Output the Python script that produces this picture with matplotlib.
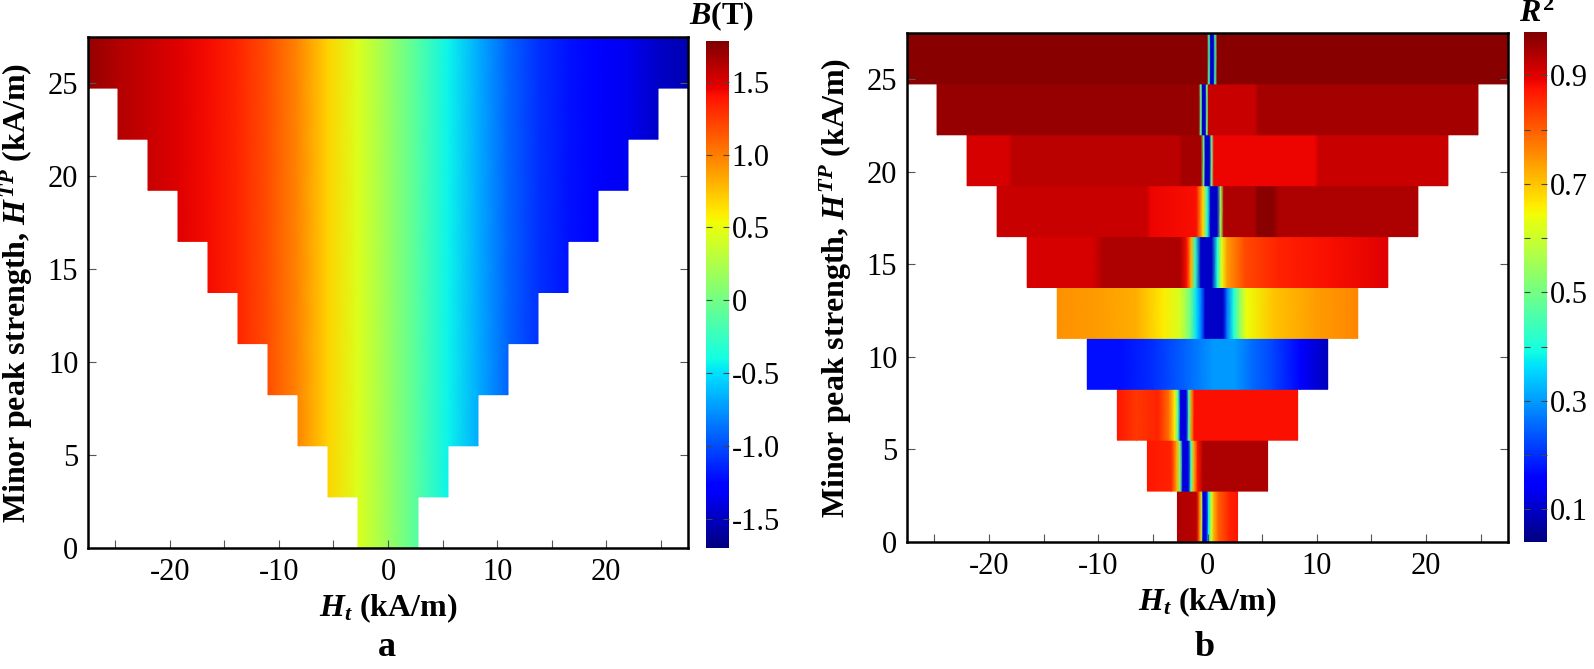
import numpy as np
import matplotlib
matplotlib.use("Agg")
import matplotlib.pyplot as plt
from matplotlib.colors import Normalize
from matplotlib.ticker import AutoMinorLocator, FixedLocator
import matplotlib.cm as cm

# ---------------- data ----------------
# row tops (minor peak strength H^TP, kA/m); each row spans Ht in [-top, top]
HTP_ROW_TOP = [2.75, 5.5, 8.25, 11.0, 13.75, 16.5, 19.25, 22.0, 24.75, 27.5]

# panel a: B (T) sampled along Ht
HT_GRID = [-27.5, -24.75, -22.0, -19.25, -16.5, -13.75, -11.0, -8.25, -5.5, -2.75,
           0.0, 2.75, 5.5, 8.25, 11.0, 13.75, 16.5, 19.25, 22.0, 24.75, 27.5]
B_VALUES = [1.70, 1.63, 1.56, 1.49, 1.42, 1.32, 1.18, 0.97, 0.69, 0.44,
            0.17, -0.13, -0.43, -0.68, -0.92, -1.10, -1.21, -1.29, -1.36, -1.47, -1.55]

# panel b: R^2 per row (Ht sample points, values)
R2_HT_0 = [-2.75, -1.0, -0.75, -0.55, -0.4, -0.1, 0.1, 0.35, 0.6, 1.0, 2.0, 2.75]
R2_V_0 = [0.94, 0.93, 0.80, 0.62, 0.12, 0.12, 0.38, 0.60, 0.72, 0.80, 0.86, 0.87]
R2_HT_1 = [-5.5, -3.3, -2.8, -2.5, -2.25, -1.75, -1.5, -1.25, -0.9, -0.4, 5.5]
R2_V_1 = [0.87, 0.86, 0.72, 0.50, 0.12, 0.12, 0.45, 0.72, 0.87, 0.94, 0.94]
R2_HT_2 = [-8.25, -6.5, -4.5, -3.5, -3.0, -2.7, -2.45, -1.95, -1.7, -1.45, -1.2, 8.25]
R2_V_2 = [0.87, 0.84, 0.86, 0.78, 0.66, 0.45, 0.12, 0.12, 0.45, 0.75, 0.88, 0.88]
R2_HT_3 = [-11.0, -8.0, -5.0, -2.0, 0.5, 2.5, 4.0, 6.0, 8.5, 11.0]
R2_V_3 = [0.17, 0.17, 0.20, 0.25, 0.30, 0.30, 0.26, 0.22, 0.16, 0.09]
R2_HT_4 = [-13.75, -10.0, -6.5, -4.0, -2.5, -1.6, -1.0, -0.5, -0.2, 1.45, 1.8, 2.4, 3.0, 3.6, 6.0, 10.0, 13.75]
R2_V_4 = [0.75, 0.74, 0.72, 0.66, 0.61, 0.50, 0.36, 0.25, 0.10, 0.10, 0.27, 0.40, 0.55, 0.64, 0.70, 0.74, 0.76]
R2_HT_5 = [-16.5, -10.5, -9.5, -2.5, -1.9, -1.5, -1.1, -0.6, 0.4, 0.9, 1.3, 1.8, 3.4, 6.5, 11.0, 16.5]
R2_V_5 = [0.91, 0.91, 0.94, 0.94, 0.88, 0.72, 0.42, 0.10, 0.10, 0.40, 0.63, 0.74, 0.82, 0.86, 0.88, 0.90]
R2_HT_6 = [-19.25, -5.6, -5.2, -1.0, -0.4, 0.0, 0.3, 0.9, 1.2, 1.5, 4.3, 4.6, 6.0, 6.5, 19.25]
R2_V_6 = [0.92, 0.92, 0.89, 0.88, 0.68, 0.40, 0.10, 0.10, 0.55, 0.94, 0.94, 0.97, 0.97, 0.94, 0.94]
R2_HT_7 = [-22.0, -18.2, -17.8, -2.6, -2.3, -0.6, -0.35, -0.2, 0.2, 0.35, 0.6, 9.8, 10.2, 22.0]
R2_V_7 = [0.91, 0.91, 0.93, 0.93, 0.95, 0.95, 0.50, 0.10, 0.10, 0.50, 0.89, 0.89, 0.92, 0.92]
R2_HT_8 = [-24.75, -0.8, -0.6, -0.45, -0.2, -0.05, 0.1, 4.3, 4.7, 24.75]
R2_V_8 = [0.96, 0.96, 0.50, 0.10, 0.10, 0.50, 0.92, 0.92, 0.95, 0.95]
R2_HT_9 = [-27.5, -0.05, 0.15, 0.3, 0.55, 0.7, 0.9, 27.5]
R2_V_9 = [0.97, 0.97, 0.45, 0.10, 0.10, 0.45, 0.97, 0.97]

R2_HT_ROWS = [R2_HT_0, R2_HT_1, R2_HT_2, R2_HT_3, R2_HT_4, R2_HT_5, R2_HT_6, R2_HT_7, R2_HT_8, R2_HT_9]
R2_V_ROWS = [R2_V_0, R2_V_1, R2_V_2, R2_V_3, R2_V_4, R2_V_5, R2_V_6, R2_V_7, R2_V_8, R2_V_9]

X_TICKS = [-20, -10, 0, 10, 20]
Y_TICKS = [0, 5, 10, 15, 20, 25]
CB_B_TICKS = [-1.5, -1.0, -0.5, 0, 0.5, 1.0, 1.5]
CB_B_LABELS = ["-1.5", "-1.0", "-0.5", "0", "0.5", "1.0", "1.5"]
CB_R2_TICKS = [0.1, 0.3, 0.5, 0.7, 0.9]
CB_R2_LABELS = ["0.1", "0.3", "0.5", "0.7", "0.9"]
CB_R2_MINOR = [0.2, 0.4, 0.6, 0.8]

# ---------------- style ----------------
plt.rcParams["font.family"] = ["Liberation Serif", "DejaVu Serif"]
plt.rcParams["mathtext.fontset"] = "custom"
plt.rcParams["mathtext.rm"] = "Liberation Serif:bold"
plt.rcParams["mathtext.bf"] = "Liberation Serif:bold"
plt.rcParams["mathtext.it"] = "Liberation Serif:italic:bold"
plt.rcParams["axes.unicode_minus"] = False

W, H = 1594, 669
fig = plt.figure(figsize=(W / 100, H / 100), dpi=100)


def frac(x0, y0, x1, y1):
    return [x0 / W, 1 - y1 / H, (x1 - x0) / W, (y1 - y0) / H]


ax_a = fig.add_axes(frac(88, 37, 688, 548))
cax_a = fig.add_axes(frac(706, 41, 729, 548))
ax_b = fig.add_axes(frac(907, 33, 1508, 542))
cax_b = fig.add_axes(frac(1524, 32, 1547, 542))

cmap = plt.get_cmap("jet")
norm_b = Normalize(-1.70, 1.78)
norm_r = Normalize(0.04, 0.98)

LABEL_FS = 23
TICK_FS = 22


def draw_row(ax, ht, vals, y0, y1, norm):
    ht = np.asarray(ht, dtype=float)
    v = np.asarray(vals, dtype=float)
    X = np.vstack([ht, ht])
    Y = np.vstack([np.full_like(ht, y0), np.full_like(ht, y1)])
    C = np.vstack([v, v])
    ax.pcolormesh(X, Y, C, shading="gouraud", cmap=cmap, norm=norm, antialiased=False)


ht_grid = np.asarray(HT_GRID)
b_vals = np.asarray(B_VALUES)
for k, top in enumerate(HTP_ROW_TOP):
    y0 = 0.0 if k == 0 else HTP_ROW_TOP[k - 1]
    m = np.abs(ht_grid) <= top + 1e-9
    draw_row(ax_a, ht_grid[m], b_vals[m], y0, top, norm_b)
    draw_row(ax_b, R2_HT_ROWS[k], R2_V_ROWS[k], y0, top, norm_r)

for ax in (ax_a, ax_b):
    ax.set_xlim(-HTP_ROW_TOP[-1], HTP_ROW_TOP[-1])
    ax.set_ylim(0, HTP_ROW_TOP[-1])
    ax.set_xticks(X_TICKS)
    ax.set_yticks(Y_TICKS)
    ax.xaxis.set_minor_locator(AutoMinorLocator(2))
    ax.tick_params(axis="both", which="both", direction="in", right=True, top=False,
                   labelsize=TICK_FS, pad=7, width=0.8, color="#555555")
    ax.tick_params(which="major", length=6)
    ax.tick_params(which="minor", length=6)
    for s in ax.spines.values():
        s.set_linewidth(1.8)
    ax.set_xlabel(r"$H_t$ (kA/m)", fontsize=LABEL_FS, fontweight="bold")
    ax.set_ylabel(r"Minor peak strength, $H^{TP}$ (kA/m)", fontsize=LABEL_FS, fontweight="bold")
    ax.xaxis.set_label_coords(0.5, -0.085)
    ax.yaxis.set_label_coords(-0.088, 0.5)

# colorbars
cb_a = fig.colorbar(cm.ScalarMappable(norm=norm_b, cmap=cmap), cax=cax_a)
cb_a.set_ticks(CB_B_TICKS)
cb_a.set_ticklabels(CB_B_LABELS)
cb_b = fig.colorbar(cm.ScalarMappable(norm=norm_r, cmap=cmap), cax=cax_b)
cb_b.set_ticks(CB_R2_TICKS)
cb_b.set_ticklabels(CB_R2_LABELS)
cb_b.ax.yaxis.set_minor_locator(FixedLocator(CB_R2_MINOR))
for cb in (cb_a, cb_b):
    cb.outline.set_visible(False)
    cb.ax.tick_params(which="both", direction="in", left=True, right=True, length=4,
                      width=0.8, color="#444444", labelsize=TICK_FS, pad=2)

fig.text(721 / W, 1 - 16 / H, r"$B$(T)", fontsize=LABEL_FS, fontweight="bold", ha="center", va="center")
fig.text(1537 / W, 1 - 14 / H, r"$R^2$", fontsize=LABEL_FS, fontweight="bold", ha="center", va="center")

fig.text(387 / W, 1 - 648 / H, "a", fontsize=26, fontweight="bold", ha="center", va="center")
fig.text(1205 / W, 1 - 648 / H, "b", fontsize=26, fontweight="bold", ha="center", va="center")

fig.savefig("out.png", dpi=100)
